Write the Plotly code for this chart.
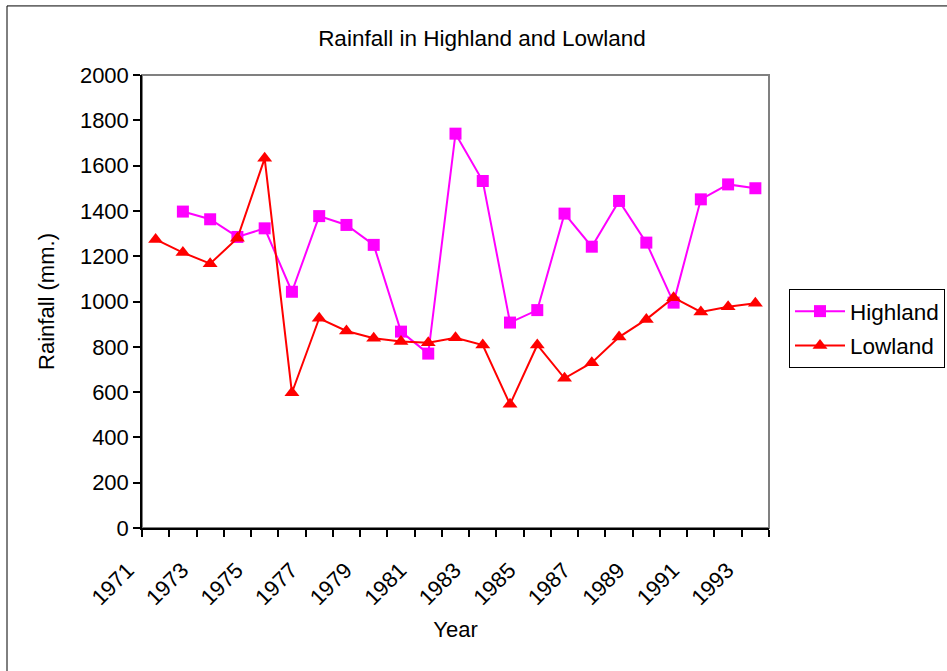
import plotly.graph_objects as go

years = list(range(1971, 1994))
highland_years = list(range(1972, 1994))
highland = [1397, 1363, 1285, 1323, 1043, 1377, 1338, 1250, 867, 770, 1741,
            1532, 907, 962, 1388, 1242, 1444, 1260, 995, 1451, 1517, 1500]
lowland = [1274, 1216, 1167, 1279, 1632, 597, 926, 870, 838, 823, 818, 840,
           808, 546, 808, 661, 730, 843, 921, 1017, 954, 977, 992]
tick_years = list(range(1971, 1994, 2))

FONT = "Liberation Sans, Arial, sans-serif"

fig = go.Figure()
fig.add_trace(go.Scatter(
    x=highland_years, y=highland, name="Highland", mode="lines+markers",
    line=dict(color="#FF00FF", width=2),
    marker=dict(symbol="square", size=12, color="#FF00FF"),
    legendgroup="h"))
fig.add_trace(go.Scatter(
    x=years, y=lowland, name="Lowland", mode="lines+markers",
    line=dict(color="#FF0000", width=2),
    marker=dict(symbol="triangle-up", size=13, color="#FF0000"),
    legendgroup="l"))

fig.update_layout(
    width=947, height=671,
    margin=dict(l=142, r=178, t=75, b=143),
    paper_bgcolor="white", plot_bgcolor="white",
    font=dict(family=FONT, size=22, color="black"),
    title=dict(text="Rainfall in Highland and Lowland", x=482/947, xanchor="center",
               y=1 - 38/671, yanchor="middle", font=dict(size=22.5)),
    showlegend=True,
    legend=dict(xref="container", yref="container",
                x=789/947, xanchor="left", y=1 - 289/671, yanchor="top",
                bordercolor="black", borderwidth=1, bgcolor="white",
                font=dict(size=22.5), itemwidth=50, traceorder="grouped",
                tracegroupgap=2),
    xaxis=dict(
        range=[1970.5, 1993.5], tickmode="array", tickvals=tick_years,
        ticktext=[str(y) for y in tick_years], tickangle=-45,
        ticks="outside", ticklen=7, tickcolor="rgba(0,0,0,0)",
        ticklabelstandoff=12, ticklabelshift=-28,
        minor=dict(ticks="outside", tick0=1970.5, dtick=1, ticklen=7,
                   tickcolor="black", tickwidth=1.5, showgrid=False),
        showline=True, linecolor="black", linewidth=1.5,
        showgrid=False, zeroline=False,
        title=dict(text="Year", standoff=13, font=dict(size=22)),
    ),
    yaxis=dict(
        range=[0, 2000], dtick=200, tick0=0,
        ticks="outside", ticklen=7, tickcolor="black", tickwidth=1.5,
        showline=True, linecolor="black", linewidth=1.5,
        showgrid=False, zeroline=False,
        title=dict(text="Rainfall (mm.)", standoff=19, font=dict(size=22)),
    ),
    shapes=[
        dict(type="rect", xref="paper", yref="paper", x0=0, x1=1, y0=0, y1=1,
             line=dict(color="#808080", width=2), layer="below"),
        dict(type="rect", xref="paper", yref="paper",
             x0=(7 - 142) / 627, x1=(960 - 142) / 627,
             y0=(527.5 - 690) / 452.5, y1=(527.5 - 6) / 452.5,
             line=dict(color="black", width=1), layer="below"),
    ],
)

fig.write_html("out.html")
